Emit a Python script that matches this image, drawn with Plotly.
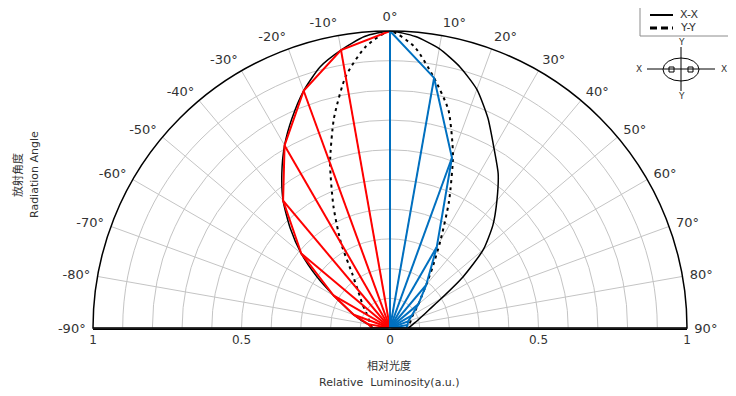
import plotly.graph_objects as go

# page has an 8px body margin, so the figure is 728x388 and screen px are shifted by 8
OFF = 8
W, H = 736 - 2 * OFF, 396 - 2 * OFF

# ---------------- data ----------------
theta_curve = [-90, -85, -80, -75, -70, -65, -60, -55, -50, -45, -40, -35, -30, -25, -20, -15, -10, -5,
               0, 5, 10, 15, 20, 25, 30, 35, 40, 45, 50, 55, 60, 65, 70, 75, 80, 85, 90]
r_xx = [0.06, 0.065, 0.075, 0.10, 0.13, 0.165, 0.22, 0.30, 0.39, 0.475, 0.56, 0.635, 0.71, 0.78, 0.85, 0.91, 0.95, 0.985,
        1.0, 0.985, 0.955, 0.91, 0.855, 0.78, 0.70, 0.635, 0.56, 0.49, 0.41, 0.30, 0.20, 0.145, 0.115, 0.095, 0.08, 0.07, 0.06]
r_yy = [0.06, 0.063, 0.067, 0.07, 0.075, 0.082, 0.09, 0.10, 0.12, 0.14, 0.17, 0.22, 0.33, 0.45, 0.59, 0.73, 0.86, 0.95,
        1.0, 0.95, 0.855, 0.76, 0.62, 0.47, 0.34, 0.25, 0.19, 0.15, 0.125, 0.105, 0.09, 0.08, 0.075, 0.07, 0.068, 0.066, 0.065]

theta_red = [-90, -80, -70, -60, -50, -40, -30, -20, -10, 0]
r_red = [0.06, 0.075, 0.13, 0.22, 0.39, 0.56, 0.71, 0.85, 0.95, 1.0]
theta_blue = [0, 10, 20, 30, 40, 50, 60, 70, 80, 90]
r_blue = [1.0, 0.855, 0.61, 0.315, 0.19, 0.125, 0.085, 0.065, 0.06, 0.055]

angle_ticks = list(range(-90, 91, 10))
angle_labels = [f"{a}°" for a in angle_ticks]
lum_ticks = [-1, -0.5, 0, 0.5, 1]
lum_labels = ["1", "0.5", "0", "0.5", "1"]
series_names = ["X-X", "Y-Y"]

RED = "#ff0000"
BLUE = "#0070c0"
TXT = "#333333"


def px(x):
    return (x - OFF) / W


def py(y):
    return 1 - (y - OFF) / H


def spokes(thetas, rs):
    t, r = [], []
    for a, v in zip(thetas, rs):
        t += [a, a, None]
        r += [0, v, None]
    return t, r


fig = go.Figure()
fig.add_trace(go.Scatterpolar(theta=theta_curve, r=r_xx, mode="lines", name=series_names[0], showlegend=False,
                              line=dict(color="black", width=1.5, shape="spline", smoothing=0.6)))
fig.add_trace(go.Scatterpolar(theta=theta_curve, r=r_yy, mode="lines", name=series_names[1], showlegend=False,
                              line=dict(color="black", width=2, dash="3px,4px", shape="spline", smoothing=0.6)))

ts, rs = spokes(theta_red, r_red)
fig.add_trace(go.Scatterpolar(theta=ts, r=rs, mode="lines", showlegend=False,
                              line=dict(color=RED, width=2)))
fig.add_trace(go.Scatterpolar(theta=theta_red, r=r_red, mode="lines", showlegend=False,
                              line=dict(color=RED, width=2)))
ts, rs = spokes(theta_blue, r_blue)
fig.add_trace(go.Scatterpolar(theta=ts, r=rs, mode="lines", showlegend=False,
                              line=dict(color=BLUE, width=2)))
fig.add_trace(go.Scatterpolar(theta=theta_blue, r=r_blue, mode="lines", showlegend=False,
                              line=dict(color=BLUE, width=2)))

# invisible cartesian axis for the bottom luminosity scale / baseline
fig.add_trace(go.Scatter(x=[-1, 1], y=[0, 0], mode="markers", marker=dict(opacity=0),
                         showlegend=False, hoverinfo="skip", xaxis="x", yaxis="y"))

cx, cy, R = 390, 328, 297

fig.update_layout(
    width=W, height=H,
    margin=dict(l=0, r=0, t=0, b=0, autoexpand=False),
    paper_bgcolor="white", plot_bgcolor="white",
    font=dict(family="DejaVu Sans", color=TXT),
    showlegend=False,
    polar=dict(
        domain=dict(x=[px(cx - R), px(cx + R)], y=[py(cy), py(cy - R)]),
        sector=[0, 180],
        bgcolor="white",
        radialaxis=dict(range=[0, 1], dtick=0.1, showticklabels=False, ticks="",
                        showline=False, gridcolor="#c4c4c4", gridwidth=1),
        angularaxis=dict(direction="clockwise", rotation=90, thetaunit="degrees",
                         tickmode="array", tickvals=angle_ticks, ticktext=angle_labels,
                         ticks="outside", ticklen=4, tickcolor="rgba(0,0,0,0)",
                         showline=True, linecolor="black", linewidth=1.5,
                         gridcolor="#c4c4c4", gridwidth=1,
                         tickfont=dict(size=13, color=TXT)),
    ),
    xaxis=dict(domain=[px(cx - R), px(cx + R)], range=[-1, 1], tickmode="array",
               tickvals=lum_ticks, ticktext=lum_labels, showgrid=False, zeroline=False,
               showline=True, linecolor="black", linewidth=2, ticks="",
               tickfont=dict(size=12, color=TXT)),
    yaxis=dict(domain=[py(cy), py(cy - 100)], range=[0, 1], visible=False),
)

annotations = [
    dict(x=px(389), y=py(365), text="相对光度", font=dict(family="Noto Sans CJK SC", size=11)),
    dict(x=px(389), y=py(382), text="Relative  Luminosity(a.u.)", font=dict(size=11)),
    dict(x=px(17), y=py(175), text="放射角度", textangle=-90, font=dict(family="Noto Sans CJK SC", size=11)),
    dict(x=px(35), y=py(175), text="Radiation Angle", textangle=-90, font=dict(size=11)),
    # XY orientation icon labels
    dict(x=px(639), y=py(69), text="X", font=dict(size=9)),
    dict(x=px(724), y=py(69), text="X", font=dict(size=9)),
    dict(x=px(681), y=py(42), text="Y", font=dict(size=9)),
    dict(x=px(681), y=py(96), text="Y", font=dict(size=9)),
    # legend texts
    dict(x=px(678), y=py(15), text=series_names[0], xanchor="left", font=dict(size=11)),
    dict(x=px(678), y=py(28), text=series_names[1], xanchor="left", font=dict(size=11)),
]
for a in annotations:
    a.setdefault("xanchor", "center")
    a.update(xref="paper", yref="paper", showarrow=False, yanchor="middle")
fig.update_layout(annotations=annotations)

icon = dict(xref="paper", yref="paper", line=dict(color="black", width=1))
shapes = [
    # legend box and samples
    dict(type="rect", x0=px(640), x1=px(730), y0=py(0), y1=py(36), xref="paper", yref="paper",
         line=dict(color="#8c8c8c", width=1), fillcolor="white", layer="above"),
    dict(type="line", x0=px(650), x1=px(673), y0=py(15), y1=py(15), xref="paper", yref="paper",
         line=dict(color="black", width=2)),
    dict(type="line", x0=px(650), x1=px(673), y0=py(28), y1=py(28), xref="paper", yref="paper",
         line=dict(color="black", width=3, dash="7px,4px")),
    # XY orientation icon
    dict(type="circle", x0=px(663), x1=px(699), y0=py(58), y1=py(81), **icon),
    dict(type="line", x0=px(647), x1=px(715), y0=py(69), y1=py(69), **icon),
    dict(type="line", x0=px(681), x1=px(681), y0=py(47), y1=py(91), **icon),
    dict(type="rect", x0=px(669), x1=px(674), y0=py(67), y1=py(72), **icon),
    dict(type="rect", x0=px(688), x1=px(693), y0=py(67), y1=py(72), **icon),
]
fig.update_layout(shapes=shapes)

fig.write_html("out.html")
